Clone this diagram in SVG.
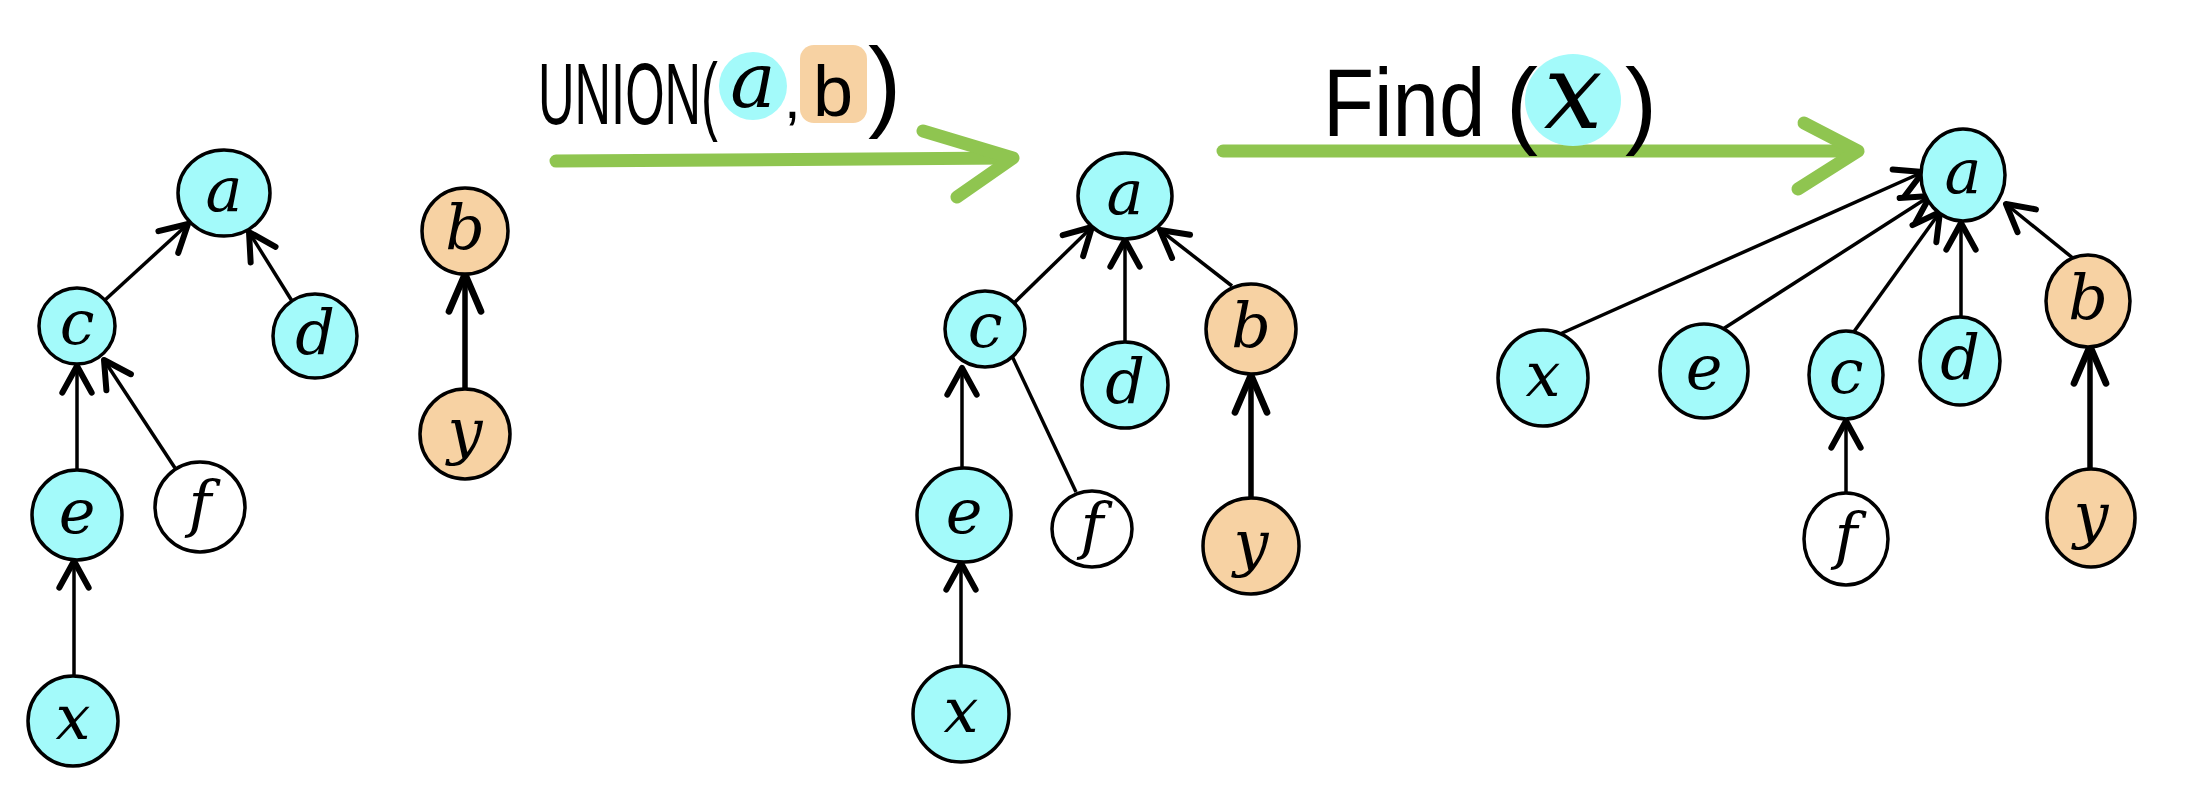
<svg xmlns="http://www.w3.org/2000/svg" width="2196" height="788" viewBox="0 0 2196 788">
<defs>
<style>
.n{stroke:#000;stroke-width:3.5}
.cy{fill:#A3FAFA}
.or{fill:#F7D2A3}
.wh{fill:#fff}
.lb{font-family:"DejaVu Serif","Liberation Serif",serif;font-style:italic;font-size:62px;text-anchor:middle;dominant-baseline:central;fill:#000}
.e{stroke:#000;stroke-width:3.5;fill:none;marker-end:url(#ah)}
.et{stroke:#000;stroke-width:5.5;fill:none;marker-end:url(#ah2)}
.g{stroke:#8FC550;stroke-width:13;fill:none;stroke-linecap:round;stroke-linejoin:round}
.hw{font-family:"Liberation Sans",sans-serif;fill:#000}
</style>
<marker id="ah" markerUnits="userSpaceOnUse" markerWidth="40" markerHeight="40" refX="0" refY="0" viewBox="-25 -15 30 30" orient="auto" overflow="visible">
<path d="M -20 -11 L 0 0 L -20 11" fill="none" stroke="#000" stroke-width="4.5" stroke-linecap="round" stroke-linejoin="round"/>
</marker>
<marker id="ah2" markerUnits="userSpaceOnUse" markerWidth="40" markerHeight="40" refX="0" refY="0" viewBox="-25 -15 30 30" orient="auto" overflow="visible">
<path d="M -28 -12 L 0 0 L -28 12" fill="none" stroke="#000" stroke-width="5" stroke-linecap="round" stroke-linejoin="round"/>
</marker>
</defs>
<rect width="2196" height="788" fill="#fff"/>

<g id="connectors">
<!-- left tree -->
<line class="e" x1="105" y1="300" x2="188" y2="224"/>
<line class="e" x1="292" y1="301" x2="249" y2="232"/>
<line class="e" x1="77" y1="470" x2="77" y2="366"/>
<line class="e" x1="175" y1="468" x2="104" y2="360"/>
<line class="e" x1="74" y1="676" x2="74" y2="561"/>
<line class="et" x1="465" y1="389" x2="465" y2="274"/>
<!-- middle tree -->
<line class="e" x1="1014" y1="303" x2="1092" y2="227"/>
<line class="e" x1="1125" y1="342" x2="1125" y2="240"/>
<line class="e" x1="1232" y1="286" x2="1160" y2="230"/>
<line class="e" x1="962" y1="468" x2="962" y2="368"/>
<line stroke="#000" stroke-width="3.5" x1="1012" y1="356" x2="1076" y2="492"/>
<line class="e" x1="961" y1="666" x2="961" y2="563"/>
<line class="et" x1="1251" y1="498" x2="1251" y2="375"/>
<!-- right tree -->
<line class="e" x1="1560" y1="334" x2="1923" y2="172"/>
<line class="e" x1="1723" y1="329" x2="1930" y2="196"/>
<line class="e" x1="1853" y1="333" x2="1940" y2="212"/>
<line class="e" x1="1961" y1="319" x2="1961" y2="223"/>
<line class="e" x1="2074" y1="259" x2="2006" y2="204"/>
<line class="e" x1="1846" y1="494" x2="1846" y2="421"/>
<line class="et" x1="2090" y1="471" x2="2090" y2="346"/>
</g>

<g id="arrow-union">
<path class="g" d="M 556 161 L 1010 158"/>
<path class="g" d="M 923 131 L 1013 158 L 957 197"/>
</g>
<g id="label-union">
<text class="hw" font-size="88" transform="translate(538,124) scale(0.575,1)">UNION(</text>
<circle cx="753" cy="86" r="34" fill="#A3FAFA"/>
<text class="lb" x="753" y="80" style="font-size:76px">a</text>
<text class="hw" x="784" y="118" font-size="60">,</text>
<rect x="800" y="45" width="67" height="78" rx="14" fill="#F7D2A3"/>
<text class="hw" x="833" y="116" font-size="72" text-anchor="middle">b</text>
<text class="hw" x="868" y="118" font-size="100">)</text>
</g>

<g id="arrow-find">
<path class="g" d="M 1223 151 L 1856 151"/>
<path class="g" d="M 1804 123 L 1858 151 L 1798 189"/>
</g>
<g id="label-find">
<text class="hw" font-size="96" transform="translate(1323,136) scale(0.87,1)">Find</text>
<text class="hw" x="1506" y="136" font-size="96">(</text>
<ellipse cx="1573" cy="100" rx="48" ry="46" fill="#A3FAFA"/>
<text class="lb" x="1573" y="92" style="font-size:104px">x</text>
<text class="hw" x="1625" y="136" font-size="96">)</text>
</g>

<!-- left tree nodes -->
<g id="L-a"><ellipse class="n cy" cx="224" cy="193" rx="46" ry="43"/><text class="lb" x="224" y="189">a</text></g>
<g id="L-c"><ellipse class="n cy" cx="77" cy="326" rx="38" ry="38"/><text class="lb" x="77" y="322">c</text></g>
<g id="L-d"><ellipse class="n cy" cx="315" cy="336" rx="42" ry="42"/><text class="lb" x="315" y="332">d</text></g>
<g id="L-e"><ellipse class="n cy" cx="77" cy="515" rx="45" ry="45"/><text class="lb" x="77" y="511">e</text></g>
<g id="L-f"><ellipse class="n wh" cx="200" cy="507" rx="45" ry="45"/><text class="lb" x="200" y="503">f</text></g>
<g id="L-x"><ellipse class="n cy" cx="73" cy="721" rx="45" ry="45"/><text class="lb" x="73" y="717">x</text></g>
<g id="L-b"><ellipse class="n or" cx="465" cy="231" rx="43" ry="43"/><text class="lb" x="465" y="227">b</text></g>
<g id="L-y"><ellipse class="n or" cx="465" cy="434" rx="45" ry="45"/><text class="lb" x="465" y="430">y</text></g>

<!-- middle tree nodes -->
<g id="M-a"><ellipse class="n cy" cx="1125" cy="196" rx="47" ry="43"/><text class="lb" x="1125" y="192">a</text></g>
<g id="M-c"><ellipse class="n cy" cx="985" cy="329" rx="40" ry="38"/><text class="lb" x="985" y="325">c</text></g>
<g id="M-d"><ellipse class="n cy" cx="1125" cy="385" rx="43" ry="43"/><text class="lb" x="1125" y="381">d</text></g>
<g id="M-b"><ellipse class="n or" cx="1251" cy="329" rx="45" ry="45"/><text class="lb" x="1251" y="325">b</text></g>
<g id="M-e"><ellipse class="n cy" cx="964" cy="515" rx="47" ry="47"/><text class="lb" x="964" y="511">e</text></g>
<g id="M-f"><ellipse class="n wh" cx="1092" cy="529" rx="40" ry="38"/><text class="lb" x="1092" y="525">f</text></g>
<g id="M-y"><ellipse class="n or" cx="1251" cy="546" rx="48" ry="48"/><text class="lb" x="1251" y="542">y</text></g>
<g id="M-x"><ellipse class="n cy" cx="961" cy="714" rx="48" ry="48"/><text class="lb" x="961" y="710">x</text></g>

<!-- right tree nodes -->
<g id="R-a"><ellipse class="n cy" cx="1963" cy="175" rx="42" ry="46"/><text class="lb" x="1963" y="171">a</text></g>
<g id="R-x"><ellipse class="n cy" cx="1543" cy="378" rx="45" ry="48"/><text class="lb" x="1543" y="374">x</text></g>
<g id="R-e"><ellipse class="n cy" cx="1704" cy="371" rx="44" ry="47"/><text class="lb" x="1704" y="367">e</text></g>
<g id="R-c"><ellipse class="n cy" cx="1846" cy="375" rx="37" ry="44"/><text class="lb" x="1846" y="371">c</text></g>
<g id="R-d"><ellipse class="n cy" cx="1960" cy="361" rx="40" ry="44"/><text class="lb" x="1960" y="357">d</text></g>
<g id="R-b"><ellipse class="n or" cx="2088" cy="301" rx="42" ry="46"/><text class="lb" x="2088" y="297">b</text></g>
<g id="R-f"><ellipse class="n wh" cx="1846" cy="539" rx="42" ry="46"/><text class="lb" x="1846" y="535">f</text></g>
<g id="R-y"><ellipse class="n or" cx="2091" cy="518" rx="44" ry="49"/><text class="lb" x="2091" y="514">y</text></g>
</svg>
